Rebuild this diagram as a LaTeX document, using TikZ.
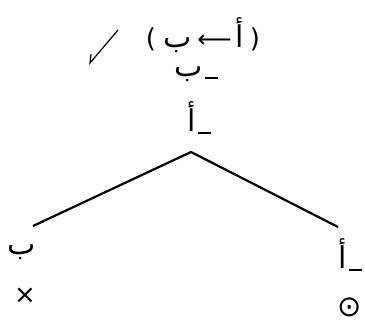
\documentclass[tikz,border=0pt]{standalone}
\usepackage{fontspec}
\newfontfamily\arabicfont[Script=Arabic]{DejaVu Sans}
\newfontfamily\symfont{DejaVu Sans}
\TeXXeTstate=1
\newcommand{\negbar}{\rule[-2.5pt]{13pt}{2.2pt}\hspace{2pt}}
\begin{document}
\begin{tikzpicture}[x=1pt,y=-1pt,
  ar/.style={inner sep=0pt, font=\arabicfont\fontsize{30}{32}\selectfont},
  sym/.style={inner sep=0pt, font=\symfont\fontsize{26}{28}\selectfont},
  branch/.style={line width=2.2pt}]
\useasboundingbox (0,0) rectangle (365,326);
\node[ar] (f1) at (203,35) {\beginR{\fontsize{26}{28}\selectfont(}\hspace{6pt}أ\hspace{4pt}{\symfont\fontsize{24}{26}\selectfont ⟵}\hspace{6pt}ب\hspace{7pt}{\fontsize{26}{28}\selectfont)}\endR};
\node[ar] (f2) at (196,74) {\beginR\negbar ب\endR};
\node[ar] (f3) at (199,118) {\beginR\negbar أ\endR};
\coordinate (apex) at (191,152);
\coordinate (lend) at (33,226);
\coordinate (rend) at (338,227);
\draw[branch] (lend) -- (apex) -- (rend);
\node[ar] (l1) at (22,252) {\beginR ب\endR};
\node[ar] (r1) at (350,255) {\beginR\negbar أ\endR};
\node[sym] (lx) at (25,296) {×};
\node[sym, font=\symfont\fontsize{29}{31}\selectfont, text depth=0pt, anchor=base] (ro) at (350,317) {⊙};
\coordinate (ck1) at (118,30);
\coordinate (ck2) at (90,63);
\coordinate (ck3) at (91,54);
\draw[line width=1.2pt] (ck1) -- (ck2) -- (ck3);
\end{tikzpicture}
\end{document}
